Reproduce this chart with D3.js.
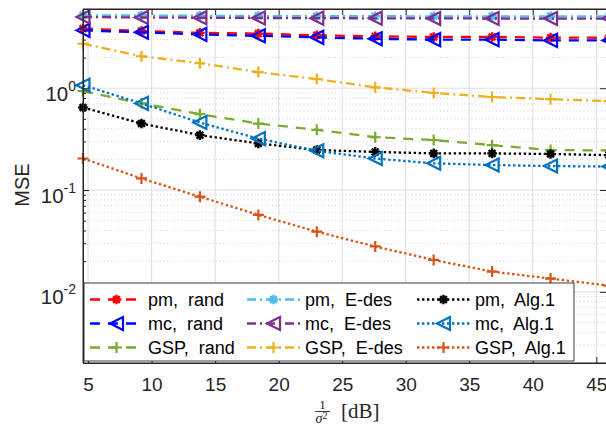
<!DOCTYPE html>
<html>
<head>
<meta charset="utf-8">
<script src="https://cdn.jsdelivr.net/npm/d3@7"></script>
<style>
body { margin: 0; background: #fff; }
svg text { font-family: "Liberation Sans", Arial, sans-serif; white-space: pre; }
svg .serif text { font-family: "Liberation Serif", "DejaVu Serif", serif; }
</style>
</head>
<body>
<svg id="uno"></svg>
<script>
// x values (dB)
let xs = [4.6, 9.2, 13.8, 18.4, 23, 27.6, 32.2, 36.8, 41.4, 46];

// MSE per method
let pmRand  = [3.85, 3.65, 3.5, 3.44, 3.31, 3.23, 3.19, 3.19, 3.14, 3.13];
let mcRand  = [3.7, 3.54, 3.38, 3.27, 3.16, 3.06, 3.0, 3.0, 2.95, 2.95];
let gspRand = [0.935, 0.71, 0.556, 0.45, 0.39, 0.33, 0.31, 0.276, 0.247, 0.245];
let pmEdes  = [5.2, 5.18, 5.15, 5.12, 5.1, 5.1, 5.08, 5.08, 5.08, 5.08];
let mcEdes  = [5.0, 4.95, 4.92, 4.9, 4.88, 4.86, 4.85, 4.84, 4.83, 4.83];
let gspEdes = [2.74, 2.06, 1.76, 1.44, 1.23, 1.02, 0.90, 0.82, 0.78, 0.746];
let pmAlg   = [0.647, 0.45, 0.346, 0.287, 0.247, 0.237, 0.229, 0.229, 0.226, 0.22];
let mcAlg   = [1.07, 0.71, 0.46, 0.32, 0.243, 0.204, 0.183, 0.176, 0.172, 0.17];
let gspAlg  = [0.204, 0.13, 0.086, 0.057, 0.039, 0.0279, 0.0206, 0.0158, 0.0135, 0.0115];

let labels = ["pm,  rand", "mc,  rand", "GSP,  rand",
              "pm,  E-des", "mc,  E-des", "GSP,  E-des",
              "pm,  Alg.1", "mc,  Alg.1", "GSP,  Alg.1"];

let xTicks = [5, 10, 15, 20, 25, 30, 35, 40, 45];
let yTicks = [0.01, 0.1, 1];

let series = [
  {y: pmRand,  c: "#FF0000", m: "star", d: "10,8"},
  {y: mcRand,  c: "#0000FF", m: "tri",  d: "10,8"},
  {y: gspRand, c: "#77AC30", m: "plus", d: "10,8"},
  {y: pmEdes,  c: "#4DBEEE", m: "star", d: "9,4,2,4"},
  {y: mcEdes,  c: "#7E2F8E", m: "tri",  d: "9,4,2,4"},
  {y: gspEdes, c: "#EDB120", m: "plus", d: "9,4,2,4"},
  {y: pmAlg,   c: "#000000", m: "star", d: "2.4,2.6"},
  {y: mcAlg,   c: "#0072BD", m: "tri",  d: "2.4,2.6"},
  {y: gspAlg,  c: "#D95319", m: "plus", d: "2.4,2.6"}
];
series.forEach((s, i) => s.name = labels[i]);

let W = 606, H = 429;
let L = 83, R = 609, T = 9, B = 363;

let svg = d3.select("#uno").attr("width", W).attr("height", H);

let x = d3.scaleLinear().domain([4.6, 46]).range([L, R]);
let y = d3.scaleLog().domain([0.002, 6]).range([B, T]);

// minor log values
let minor = [];
[0.001, 0.01, 0.1, 1].forEach(dec => {
  for (let k = 2; k <= 9; k++) {
    let v = dec * k;
    if (v >= 0.002 && v <= 6) minor.push(v);
  }
});

// grid
let grid = svg.append("g");
grid.selectAll(".ym").data(minor).enter().append("line")
  .attr("x1", L).attr("x2", R)
  .attr("y1", d => y(d)).attr("y2", d => y(d))
  .attr("stroke", "#c4c4c4").attr("stroke-width", 0.8)
  .attr("stroke-dasharray", "1,2.5");
grid.selectAll(".yM").data(yTicks).enter().append("line")
  .attr("x1", L).attr("x2", R)
  .attr("y1", d => y(d)).attr("y2", d => y(d))
  .attr("stroke", "#dedede").attr("stroke-width", 1);
grid.selectAll(".xM").data(xTicks).enter().append("line")
  .attr("y1", T).attr("y2", B)
  .attr("x1", d => x(d)).attr("x2", d => x(d))
  .attr("stroke", "#dedede").attr("stroke-width", 1);

// markers
function marker(g, type, cx, cy, col) {
  if (type == "tri") {
    g.append("path")
      .attr("d", `M${cx - 6.5},${cy} L${cx + 6.5},${cy - 6.5} L${cx + 6.5},${cy + 6.5} Z`)
      .attr("fill", "none").attr("stroke", col).attr("stroke-width", 2.2);
  } else if (type == "plus") {
    g.append("path")
      .attr("d", `M${cx - 5.5},${cy} H${cx + 5.5} M${cx},${cy - 5.5} V${cy + 5.5}`)
      .attr("stroke", col).attr("stroke-width", 2.2);
  } else {
    let r = 4.8, q = 3.4;
    g.append("path")
      .attr("d", `M${cx - r},${cy} H${cx + r} M${cx},${cy - r} V${cy + r}` +
                 `M${cx - q},${cy - q} L${cx + q},${cy + q} M${cx - q},${cy + q} L${cx + q},${cy - q}`)
      .attr("stroke", col).attr("stroke-width", 2.4);
  }
}

let line = d3.line().x((d, i) => x(xs[i])).y(d => y(d));

let plot = svg.append("g");
series.forEach(s => {
  let g = plot.append("g");
  g.append("path").datum(s.y)
    .attr("d", line)
    .attr("fill", "none")
    .attr("stroke", s.c)
    .attr("stroke-width", 2.3)
    .attr("stroke-dasharray", s.d);
  s.y.forEach((v, i) => marker(g, s.m, x(xs[i]), y(v), s.c));
});

// axes
let axCol = "#262626";
let xAx = svg.append("g").attr("transform", `translate(0,${B})`)
  .call(d3.axisBottom(x).tickValues(xTicks).tickSize(-6).tickPadding(15).tickSizeOuter(0));
xAx.selectAll("text").attr("font-size", 19).attr("fill", axCol);
svg.append("g").attr("transform", `translate(0,${T})`)
  .call(d3.axisTop(x).tickValues(xTicks).tickSize(-6).tickFormat("").tickSizeOuter(0));

let yAx = svg.append("g").attr("transform", `translate(${L},0)`)
  .call(d3.axisLeft(y).tickValues(yTicks).tickSize(-6).tickPadding(6).tickFormat("").tickSizeOuter(0));
svg.append("g").attr("transform", `translate(${L},0)`)
  .call(d3.axisLeft(y).tickValues(minor).tickSize(-3).tickFormat("").tickSizeOuter(0));
svg.append("g").attr("transform", `translate(${R - 3},0)`)
  .call(d3.axisRight(y).tickValues(yTicks).tickSize(-6).tickFormat("").tickSizeOuter(0));

yAx.selectAll(".tick").append("text")
  .attr("x", -7).attr("y", 12)
  .attr("text-anchor", "end")
  .attr("fill", axCol)
  .attr("font-size", 20.5)
  .each(function(d) {
    let t = d3.select(this);
    t.append("tspan").text("10");
    t.append("tspan").attr("dy", -10).attr("font-size", 14).text(Math.round(Math.log10(d)));
  });

svg.selectAll(".domain").attr("stroke", axCol);
svg.selectAll(".tick line").attr("stroke", axCol);

// box
svg.append("path")
  .attr("d", `M${L},${B} V${T} H${R} M${L},${B} H${R}`)
  .attr("fill", "none").attr("stroke", axCol).attr("stroke-width", 1);

// axis labels
svg.append("text")
  .attr("transform", "translate(29,185) rotate(-90)")
  .attr("text-anchor", "middle")
  .attr("font-size", 20)
  .attr("fill", axCol)
  .text("MSE");

let xl = svg.append("g").attr("class", "serif").attr("fill", axCol);
xl.append("text").attr("x", 322.5).attr("y", 408.5).attr("text-anchor", "middle").attr("font-size", 13).text("1");
xl.append("line").attr("x1", 315).attr("x2", 330).attr("y1", 411.5).attr("y2", 411.5)
  .attr("stroke", axCol).attr("stroke-width", 0.9);
let den = xl.append("text").attr("x", 315.5).attr("y", 423).attr("font-size", 14);
den.append("tspan").attr("font-style", "italic").text("σ");
den.append("tspan").attr("dy", -4).attr("font-size", 10).text("2");
xl.append("text").attr("x", 341).attr("y", 418).attr("font-size", 21).text("[dB]");

// legend
let leg = svg.append("g");
leg.append("rect").attr("x", 84).attr("y", 283).attr("width", 490).attr("height", 78)
  .attr("fill", "#fff").attr("stroke", axCol).attr("stroke-width", 0.9);
let colX = [90, 247, 417];
let rowY = [299.5, 323.5, 347.5];
series.forEach((s, i) => {
  let cx = colX[Math.floor(i / 3)], cy = rowY[i % 3];
  let g = leg.append("g");
  g.append("line").attr("x1", cx).attr("x2", cx + 53).attr("y1", cy).attr("y2", cy)
    .attr("stroke", s.c).attr("stroke-width", 2.3).attr("stroke-dasharray", s.d);
  marker(g, s.m, cx + 26.5, cy, s.c);
  g.append("text").attr("x", cx + 58).attr("y", cy + 6.5)
    .attr("font-size", 18).attr("fill", "#000").text(s.name);
});
</script>
</body>
</html>
